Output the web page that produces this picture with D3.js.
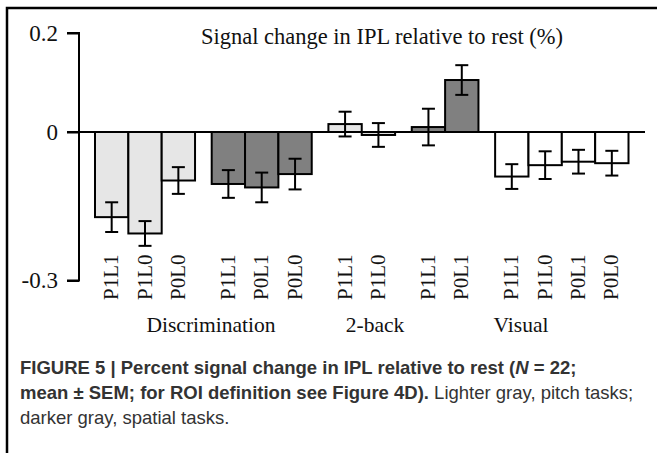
<!DOCTYPE html>
<html><head><meta charset="utf-8">
<script src="https://cdn.jsdelivr.net/npm/d3@7"></script>
<style>
body{margin:0;background:#fff;}
svg{display:block;}
</style></head>
<body>
<svg id="chart" width="657" height="453"></svg>
<script>
// ---- data ----
const groups = ["Discrimination", "2-back", "Visual"];
const subgroups = [
  {group: "Discrimination", kind: "pitch"},
  {group: "Discrimination", kind: "spatial"},
  {group: "2-back", kind: "pitch"},
  {group: "2-back", kind: "spatial"},
  {group: "Visual", kind: "visual"}
];
const conditionLabels = [
  ["P1L1", "P1L0", "P0L0"],
  ["P1L1", "P0L1", "P0L0"],
  ["P1L1", "P1L0"],
  ["P1L1", "P0L1"],
  ["P1L1", "P1L0", "P0L1", "P0L0"]
];
const means = [
  [-0.172, -0.205, -0.098],
  [-0.105, -0.112, -0.085],
  [0.016, -0.006],
  [0.010, 0.105],
  [-0.090, -0.067, -0.060, -0.063]
];
const sems = [
  [0.030, 0.025, 0.027],
  [0.028, 0.030, 0.031],
  [0.025, 0.024],
  [0.037, 0.030],
  [0.025, 0.028, 0.024, 0.025]
];
const yTicks = [0.2, 0, -0.3];
const yTickLabels = ["0.2", "0", "-0.3"];
const fills = {pitch: "#e6e6e6", spatial: "#808080", visual: "#ffffff"};
const title = "Signal change in IPL relative to rest (%)";

// layout (pixels) for group label centres
const groupLabelX = [211, 375, 521];

// ---- build bar table ----
const bars = [];
let slot = 0;
subgroups.forEach((sg, i) => {
  if (i > 0) slot += 0.5;
  conditionLabels[i].forEach((lab, j) => {
    bars.push({group: sg.group, kind: sg.kind, label: lab, mean: means[i][j], sem: sems[i][j], slot: slot});
    slot += 1;
  });
});
const totalSlots = slot;

const svg = d3.select("#chart");
const serif = "'Liberation Serif','DejaVu Serif',serif";
const sans = "'Liberation Sans',Arial,sans-serif";

// frame
svg.append("path").attr("d", "M7,453 V8 H657").attr("fill", "none").attr("stroke", "#000").attr("stroke-width", 2.5);

const x = d3.scaleLinear().domain([0, totalSlots]).range([95, 628.5]);
const bw = x(1) - x(0);
const y = d3.scaleLinear().domain([-0.3, 0.2]).range([280.5, 33]);

// y axis
const yAxis = d3.axisLeft(y).tickValues(yTicks).tickFormat((d, i) => yTickLabels[i]).tickSize(12).tickPadding(9);
const ga = svg.append("g").attr("transform", "translate(79,0)").call(yAxis);
ga.select(".domain").attr("stroke-width", 2).attr("d", "M-12," + y(0.2) + "H0V" + y(-0.3) + "H-12");
ga.selectAll(".tick line").attr("stroke-width", 2);
ga.selectAll(".tick text").attr("font-family", serif).attr("font-size", 23).attr("fill", "#111");

// bars
const gb = svg.append("g");
gb.selectAll("rect").data(bars).join("rect")
  .attr("x", d => x(d.slot))
  .attr("width", bw)
  .attr("y", d => y(Math.max(0, d.mean)))
  .attr("height", d => Math.abs(y(d.mean) - y(0)))
  .attr("fill", d => fills[d.kind])
  .attr("stroke", "#000").attr("stroke-width", 2);

// zero line
svg.append("line").attr("x1", 67).attr("x2", 645).attr("y1", y(0)).attr("y2", y(0))
  .attr("stroke", "#000").attr("stroke-width", 2);

// error bars
const ge = svg.append("g").attr("stroke", "#000").attr("stroke-width", 2);
bars.forEach(d => {
  const cx = x(d.slot + 0.5);
  ge.append("line").attr("x1", cx).attr("x2", cx).attr("y1", y(d.mean + d.sem)).attr("y2", y(d.mean - d.sem));
  ge.append("line").attr("x1", cx - 6.5).attr("x2", cx + 6.5).attr("y1", y(d.mean + d.sem)).attr("y2", y(d.mean + d.sem));
  ge.append("line").attr("x1", cx - 6.5).attr("x2", cx + 6.5).attr("y1", y(d.mean - d.sem)).attr("y2", y(d.mean - d.sem));
});

// condition labels (rotated)
svg.append("g").selectAll("text").data(bars).join("text")
  .attr("transform", d => `translate(${x(d.slot + 0.5) + 6.5},300) rotate(-90)`)
  .attr("text-anchor", "start")
  .attr("font-family", serif).attr("font-size", 21).attr("fill", "#111")
  .text(d => d.label);

// group labels
svg.append("g").selectAll("text").data(groups).join("text")
  .attr("x", (d, i) => groupLabelX[i]).attr("y", 332)
  .attr("text-anchor", "middle")
  .attr("font-family", serif).attr("font-size", 21.5).attr("fill", "#111")
  .text(d => d);

// title
svg.append("text").attr("x", 382).attr("y", 44).attr("text-anchor", "middle")
  .attr("font-family", serif).attr("font-size", 22.5).attr("fill", "#111").text(title);

// caption
const cap = svg.append("g").attr("font-family", sans).attr("font-size", 18.5).attr("fill", "#333");
const t1 = cap.append("text").attr("x", 20).attr("y", 374).attr("font-weight", "bold");
t1.append("tspan").text("FIGURE 5 | Percent signal change in IPL relative to rest (");
t1.append("tspan").attr("font-style", "italic").text("N");
t1.append("tspan").text(" = 22;");
const t2 = cap.append("text").attr("x", 20).attr("y", 399);
t2.append("tspan").attr("font-weight", "bold").text("mean \u00b1 SEM; for ROI definition see Figure 4D).");
t2.append("tspan").text(" Lighter gray, pitch tasks;");
cap.append("text").attr("x", 20).attr("y", 424).text("darker gray, spatial tasks.");
</script>
</body></html>
